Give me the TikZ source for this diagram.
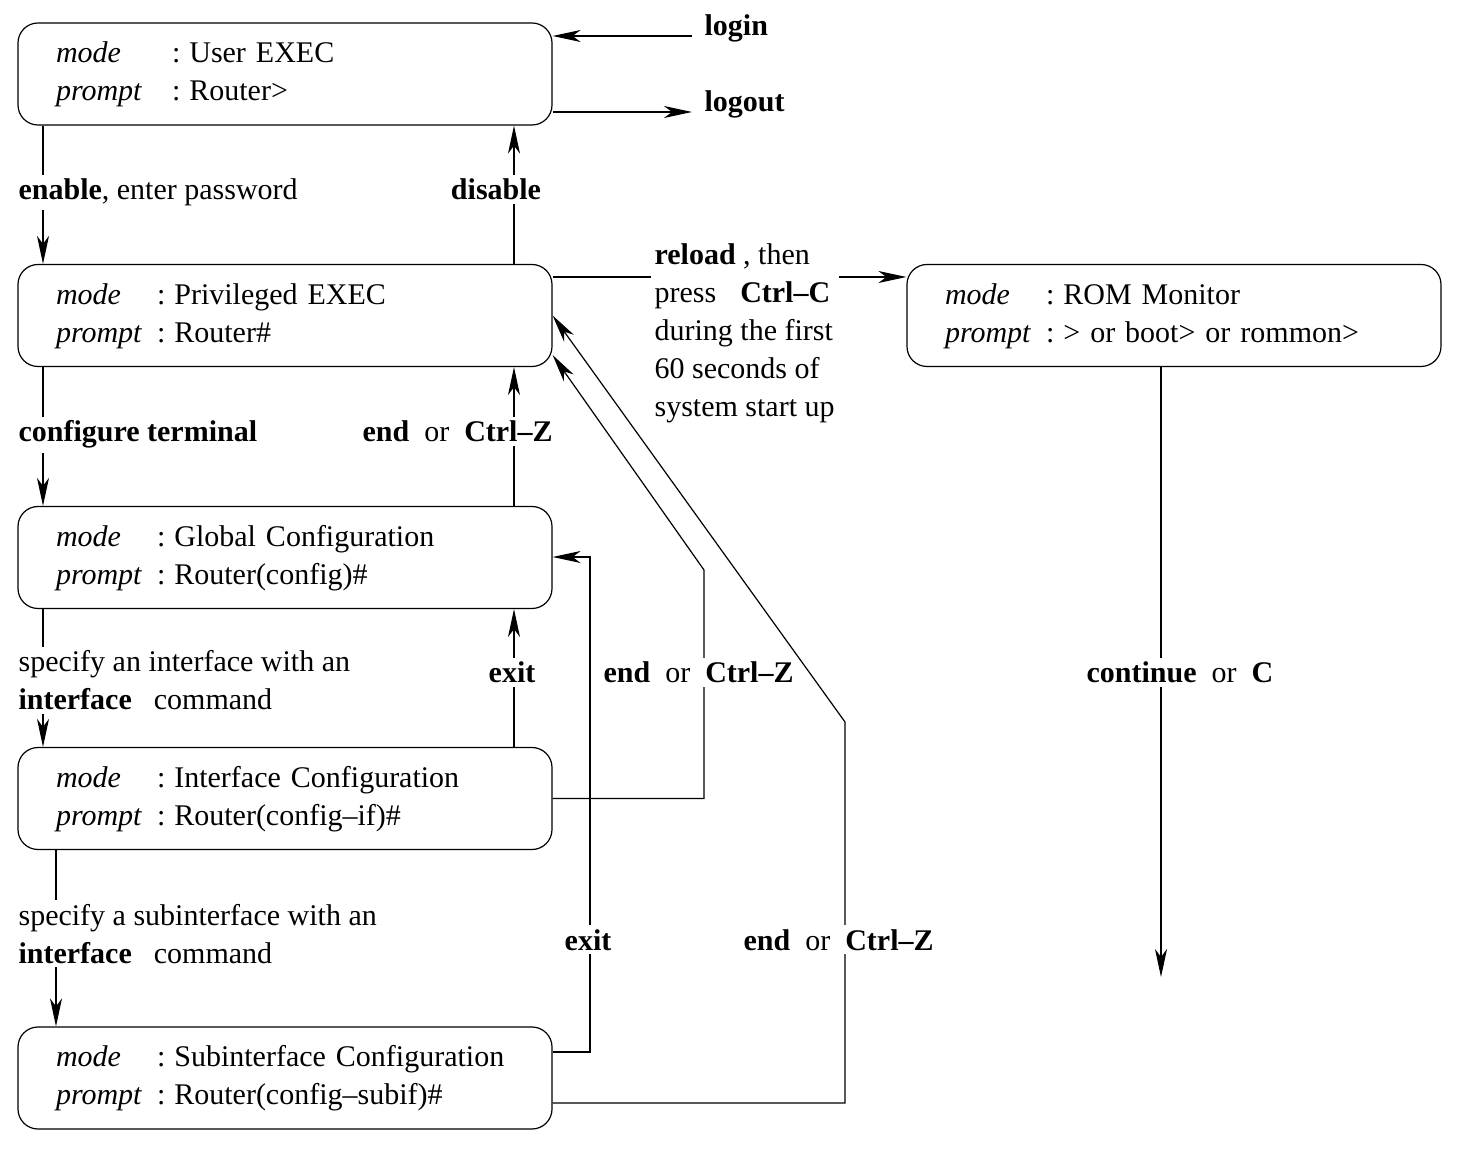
\documentclass[tikz,border=0pt]{standalone}
\usepackage{fontspec}
\setmainfont{Liberation Serif}
\usetikzlibrary{arrows.meta}

% two lines of a mode box: mode and prompt
\newcommand{\modetext}[3][50.5pt]{%
  \noindent\begin{tabular}{@{}p{#1}@{}l@{}}
    \textit{mode} & :\hspace{4.5pt}#2\\
    \textit{prompt} & :\hspace{4.5pt}#3
  \end{tabular}}

\begin{document}
\begin{tikzpicture}[x=0.5pt,y=-0.5pt,line width=0.6pt,
    every node/.style={font=\fontsize{15pt}{19pt}\selectfont},
    modebox/.style={draw,rounded corners=10pt,text width=229pt,align=left,
      inner xsep=19pt,inner ysep=0pt,minimum height=51pt},
    lbl/.style={fill=white,inner sep=2pt,anchor=base west,align=left},
    >={Stealth[length=14pt,width=6pt,inset=4pt]}]
  \useasboundingbox (0,0) rectangle (1468,1154);
  %\node[modebox] (name) at (x,y) {\modetext{mode}{prompt}};
  \node[modebox] (user) at (285,74) {\modetext[58pt]{User EXEC}{Router>}};
  \node[modebox] (priv) at (285,315.5) {\modetext{Privileged EXEC}{Router\#}};
  \node[modebox] (global) at (285,557.5) {\modetext{Global Configuration}{Router(config)\#}};
  \node[modebox] (iface) at (285,798.5) {\modetext{Interface Configuration}{Router(config--if)\#}};
  \node[modebox] (subif) at (285,1078) {\modetext{Subinterface Configuration}{Router(config--subif)\#}};
  \node[modebox] (rom) at (1174,315.5) {\modetext{ROM Monitor}{> or boot> or rommon>}};
  \coordinate (L) at (43,0);
  \coordinate (LL) at (56,0);
  \coordinate (R) at (514,0);
  \coordinate (loginpt) at (692,36);
  \coordinate (logoutpt) at (692,112);
  \coordinate (romend) at (1161,977);
  % login / logout
  \draw[->] (loginpt) -- (loginpt -| user.east);
  \draw[->] (logoutpt -| user.east) -- (logoutpt);
  % down the left side, back up on the right
  \draw[->] (user.south -| L) -- (priv.north -| L);
  \draw[->] (priv.north -| R) -- (user.south -| R);
  \draw[->] (priv.south -| L) -- (global.north -| L);
  \draw[->] (global.north -| R) -- (priv.south -| R);
  \draw[->] (global.south -| L) -- (iface.north -| L);
  \draw[->] (iface.north -| R) -- (global.south -| R);
  \draw[->] (iface.south -| LL) -- (subif.north -| LL);
  % back to global and privileged
  \draw[->] (subif.east |- 0,1052) -| (590,557) -- (global.east |- 0,557);
  \draw[->] (iface.east) -| (704,570) -- (priv.east |- 0,355);
  \draw[->] (subif.east |- 0,1103) -| (845,722) -- (priv.east);
  % ROM monitor
  \draw[->] (priv.east |- 0,277) -- (rom.west |- 0,277);
  \draw[->] (rom.south -| romend) -- (romend);
  % labels
  \node[lbl] (login) at (700,36) {\textbf{login}};
  \node[lbl] (logout) at (700,112) {\textbf{logout}};
  \node[lbl] (enable) at (14,200) {\textbf{enable}, enter password};
  \node[lbl,anchor=base] (disable) at (496,200) {\textbf{disable}};
  \node[lbl] (conft) at (14,442) {\textbf{configure terminal}};
  \node[lbl] (endpriv) at (358,442) {\textbf{end}\enspace or\enspace\textbf{Ctrl--Z}};
  \node[lbl] (specif) at (14,710) {specify an interface with an\\\textbf{interface}\hspace{11pt}command};
  \node[lbl,anchor=base] (exitif) at (512,683) {\textbf{exit}};
  \node[lbl] (endif) at (599,683) {\textbf{end}\enspace or\enspace\textbf{Ctrl--Z}};
  \node[lbl] (cont) at (1082,683) {\textbf{continue}\enspace or\enspace\textbf{C}};
  \node[lbl] (specsub) at (14,963) {specify a subinterface with an\\\textbf{interface}\hspace{11pt}command};
  \node[lbl,anchor=base] (exitsub) at (588,950) {\textbf{exit}};
  \node[lbl] (endsub) at (739,950) {\textbf{end}\enspace or\enspace\textbf{Ctrl--Z}};
  \node[lbl] (reload) at (650,417) {\textbf{reload} , then\\press\hspace{12pt}\textbf{Ctrl--C}\\during the first\\60 seconds of\\system start up};
\end{tikzpicture}
\end{document}
